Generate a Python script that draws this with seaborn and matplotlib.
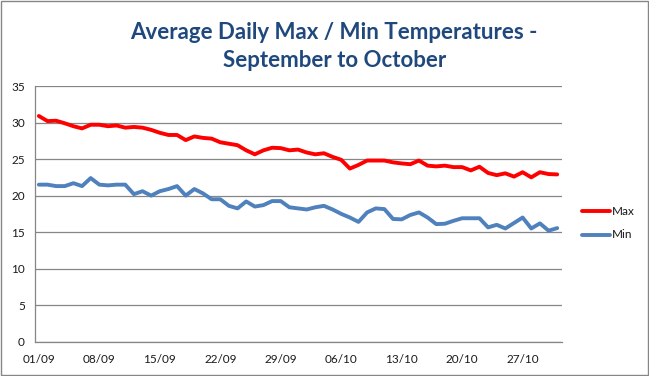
import numpy as np
import pandas as pd
import matplotlib
matplotlib.use("Agg")
import matplotlib.pyplot as plt
import seaborn as sns

# Daily values (01/09 .. 31/10)
max_temp = [30.9, 30.2, 30.25, 29.9, 29.5, 29.2, 29.7, 29.7, 29.5, 29.6,
            29.3, 29.4, 29.3, 29.0, 28.6, 28.3, 28.3, 27.6, 28.1, 27.9,
            27.8, 27.3, 27.1, 26.9, 26.2, 25.65, 26.2, 26.55, 26.5, 26.2,
            26.3, 25.9, 25.65, 25.8, 25.3, 24.9, 23.7, 24.2, 24.8, 24.8,
            24.8, 24.55, 24.4, 24.3, 24.8, 24.1, 24.0, 24.1, 23.9, 23.9,
            23.45, 23.95, 23.1, 22.8, 23.05, 22.6, 23.2, 22.5, 23.2, 22.95,
            22.9]
min_temp = [21.5, 21.5, 21.3, 21.3, 21.7, 21.3, 22.4, 21.5, 21.4, 21.5,
            21.5, 20.2, 20.6, 20.0, 20.6, 20.9, 21.3, 20.0, 20.9, 20.3,
            19.5, 19.5, 18.6, 18.25, 19.2, 18.5, 18.7, 19.25, 19.25, 18.4,
            18.25, 18.1, 18.4, 18.6, 18.1, 17.5, 17.0, 16.4, 17.7, 18.25,
            18.15, 16.8, 16.75, 17.35, 17.7, 17.0, 16.1, 16.15, 16.55, 16.9,
            16.9, 16.9, 15.65, 16.0, 15.5, 16.25, 17.0, 15.5, 16.2, 15.2,
            15.55]
dates = pd.date_range("2013-09-01", periods=len(max_temp))
tick_labels = ["01/09", "08/09", "15/09", "22/09", "29/09",
               "06/10", "13/10", "20/10", "27/10"]

df = pd.DataFrame({"day": np.arange(len(dates)), "Max": max_temp, "Min": min_temp})
long_df = df.melt(id_vars="day", var_name="series", value_name="temp")

sns.set_style("white")
plt.rcParams["font.family"] = ["Lato", "DejaVu Sans"]

fig = plt.figure(figsize=(6.49, 3.76), dpi=100)
ax = fig.add_axes([0.0532, 0.0912, 0.812, 0.680])

sns.lineplot(data=long_df, x="day", y="temp", hue="series",
             palette={"Max": "#FF0000", "Min": "#4F81BD"},
             linewidth=2.8, ax=ax, legend=False)

grid_col = "#868686"
ax.set_xlim(-0.5, len(dates) - 0.5)
ax.set_ylim(0, 35)
ax.set_yticks(np.arange(0, 36, 5))
ax.yaxis.grid(True, color=grid_col, linewidth=0.9)
ax.set_axisbelow(True)

ax.set_xticks(np.arange(0, len(dates), 7))
ax.set_xticklabels(tick_labels)
ax.set_xticks(np.arange(0, len(dates), 7) - 0.5, minor=True)
ax.tick_params(axis="x", which="major", length=0, pad=9, labelsize=8.5, labelcolor="#1a1a1a")
ax.tick_params(axis="x", which="minor", length=4, color=grid_col, direction="out")
ax.tick_params(axis="y", length=4, color=grid_col, direction="out", labelsize=8.5,
               labelcolor="#1a1a1a", pad=3)
ax.set_xlabel("")
ax.set_ylabel("")

for side in ["top", "right"]:
    ax.spines[side].set_visible(False)
for side in ["left", "bottom"]:
    ax.spines[side].set_color(grid_col)
    ax.spines[side].set_linewidth(0.9)

fig.text(0.515, 0.897, "Average Daily Max / Min Temperatures -", ha="center", va="baseline",
         fontsize=16, fontweight="bold", color="#1F497D")
fig.text(0.515, 0.821, "September to October", ha="center", va="baseline",
         fontsize=16, fontweight="bold", color="#1F497D")

# legend drawn by hand to the right of the plot
for label, col, ypos in [("Max", "#FF0000", 0.438), ("Min", "#4F81BD", 0.376)]:
    fig.add_artist(plt.Line2D([0.896, 0.940], [ypos, ypos], color=col, linewidth=2.8,
                              transform=fig.transFigure))
    fig.text(0.943, ypos, label, va="center", ha="left", fontsize=8.5, color="#1a1a1a")

fig.patches.append(plt.Rectangle((0.001, 0.002), 0.997, 0.995, transform=fig.transFigure,
                                 fill=False, edgecolor=grid_col, linewidth=1))

fig.savefig("out.png", dpi=100)
